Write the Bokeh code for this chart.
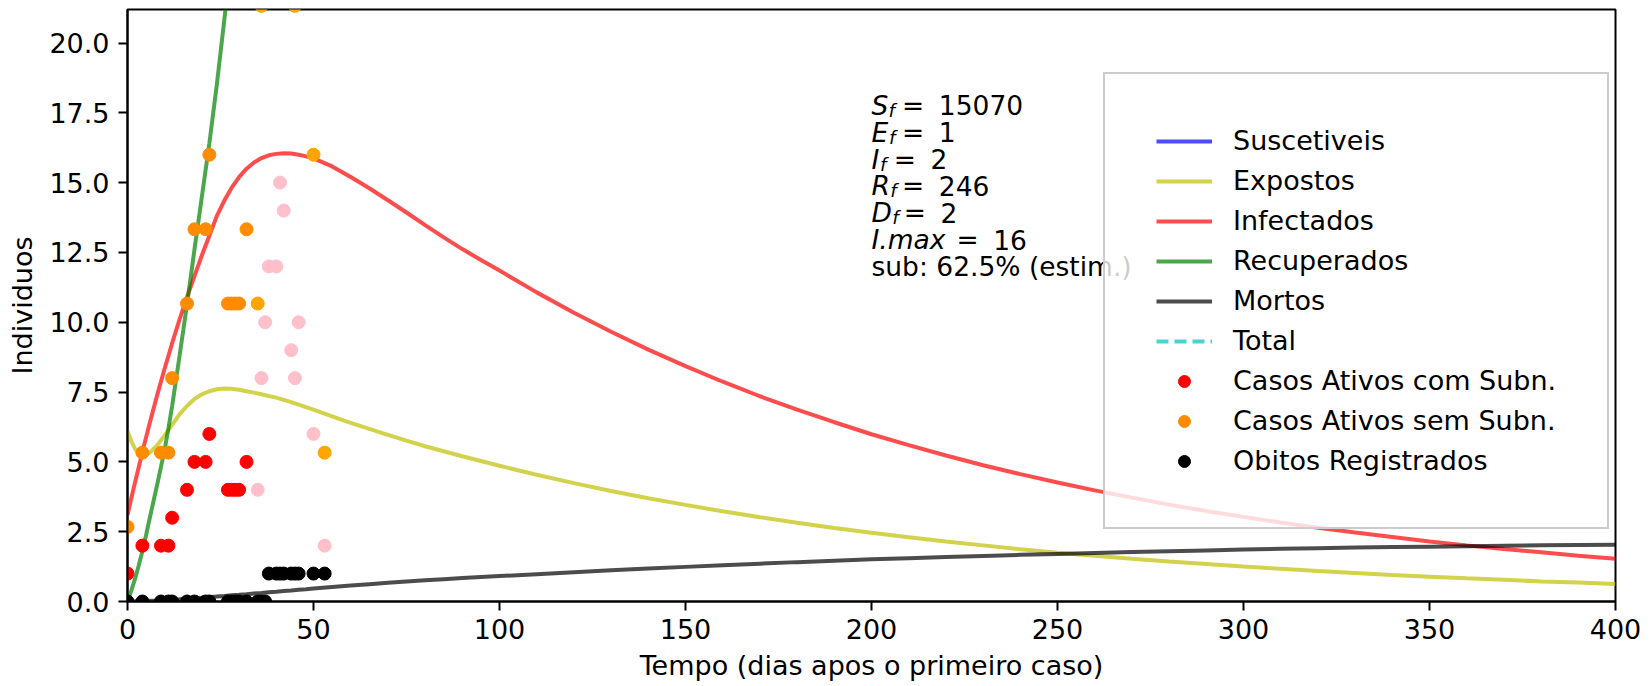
from bokeh.plotting import figure
from bokeh.models import Range1d, Legend, LegendItem, FixedTicker
from bokeh.core.properties import value
from bokeh.embed import file_html
from bokeh.resources import INLINE

FONT = "DejaVu Sans"

# ---------------- data ----------------
t_model = [0, 1, 2, 3, 4, 5, 6, 8, 10, 12, 14, 16, 18, 20, 22, 24, 26, 28, 30, 32, 34, 36,
           38, 40, 42, 44, 46, 48, 50, 55, 60, 65, 70, 75, 80, 85, 90, 95, 100, 110, 120,
           130, 140, 150, 160, 170, 180, 190, 200, 210, 220, 230, 240, 250, 260, 270, 280,
           290, 300, 310, 320, 330, 340, 350, 360, 370, 380, 390, 400]
infectados = [3.1, 3.68, 4.25, 4.8, 5.35, 5.88, 6.4, 7.4, 8.35, 9.25, 10.1, 10.9, 11.65,
              12.4, 13.1, 13.8, 14.35, 14.82, 15.2, 15.5, 15.72, 15.88, 15.98, 16.03, 16.05,
              16.04, 16.0, 15.94, 15.87, 15.58, 15.2, 14.8, 14.37, 13.93, 13.48, 13.04,
              12.62, 12.23, 11.85, 11.07, 10.34, 9.66, 9.02, 8.43, 7.87, 7.35, 6.87, 6.42,
              5.99, 5.6, 5.23, 4.88, 4.56, 4.26, 3.98, 3.72, 3.47, 3.24, 3.03, 2.83, 2.64,
              2.47, 2.31, 2.15, 2.01, 1.88, 1.76, 1.64, 1.53]
expostos = [6.1, 5.75, 5.47, 5.3, 5.24, 5.25, 5.33, 5.6, 5.95, 6.33, 6.7, 7.0, 7.25, 7.42,
            7.53, 7.6, 7.63, 7.62, 7.58, 7.53, 7.48, 7.42, 7.36, 7.3, 7.22, 7.14, 7.05, 6.96,
            6.87, 6.63, 6.4, 6.18, 5.97, 5.76, 5.56, 5.38, 5.2, 5.03, 4.86, 4.54, 4.24,
            3.96, 3.70, 3.46, 3.23, 3.02, 2.82, 2.63, 2.46, 2.30, 2.15, 2.01, 1.87, 1.75,
            1.64, 1.53, 1.43, 1.34, 1.25, 1.17, 1.09, 1.02, 0.95, 0.89, 0.83, 0.78, 0.72,
            0.68, 0.63]
mortos = [0.0, 0.004, 0.008, 0.013, 0.018, 0.023, 0.028, 0.038, 0.05, 0.065, 0.08, 0.1,
          0.115, 0.135, 0.155, 0.175, 0.195, 0.22, 0.24, 0.262, 0.285, 0.307, 0.33, 0.352,
          0.375, 0.397, 0.42, 0.44, 0.462, 0.517, 0.57, 0.62, 0.67, 0.715, 0.76, 0.8, 0.84,
          0.875, 0.91, 0.98, 1.05, 1.115, 1.18, 1.24, 1.3, 1.355, 1.41, 1.46, 1.51, 1.55,
          1.59, 1.63, 1.67, 1.705, 1.74, 1.77, 1.8, 1.83, 1.86, 1.885, 1.91, 1.93, 1.95,
          1.965, 1.98, 1.995, 2.01, 2.02, 2.03]

t_rec = [0, 1, 2, 3, 4, 5, 6, 7, 8, 9, 10, 11, 12, 13, 14, 15, 16, 17, 18, 20, 22, 24, 26,
         28, 30, 35, 40, 50, 75, 100, 150, 200, 250, 300, 350, 400]
recuperados = [0.0, 0.38, 0.8, 1.28, 1.8, 2.38, 3.0, 3.6, 4.2, 4.82, 5.45, 6.2, 7.0, 7.9,
               8.8, 9.72, 10.65, 11.62, 12.6, 14.5, 16.4, 18.5, 20.8, 23.2, 25.6, 31.5,
               37.5, 48.5, 75.0, 100.0, 140.0, 172.0, 196.0, 214.0, 231.0, 246.0]

t_sus = [0, 50, 100, 200, 300, 400]
suscetiveis = [15312, 15255, 15180, 15105, 15082, 15070]
total = [15321, 15321, 15321, 15321, 15321, 15321]

dias_fit = [0, 4, 9, 11, 12, 16, 18, 21, 22, 27, 28, 29, 30, 32]
ativos_com_sub = [1, 2, 2, 2, 3, 4, 5, 5, 6, 4, 4, 4, 4, 5]
ativos_sem_sub = [2.67, 5.33, 5.33, 5.33, 8.0, 10.67, 13.33, 13.33, 16.0, 10.67, 10.67,
                  10.67, 10.67, 13.33]

dias_novos = [35, 36, 37, 38, 40, 41, 42, 44, 45, 46, 50, 53]
ativos_novos = [4, 8, 10, 12, 12, 15, 14, 9, 8, 10, 6, 2]
ativos_novos_sem_sub = [10.67, 21.33, 26.67, 32.0, 32.0, 40.0, 37.33, 24.0, 21.33, 26.67,
                        16.0, 5.33]

dias_obitos = [0, 4, 9, 11, 12, 16, 18, 21, 22, 27, 28, 29, 30, 32, 35, 36, 37,
               38, 40, 41, 42, 44, 45, 46, 50, 53]
obitos = [0, 0, 0, 0, 0, 0, 0, 0, 0, 0, 0, 0, 0, 0, 0, 0, 0,
          1, 1, 1, 1, 1, 1, 1, 1, 1]

x_ticks = [0, 50, 100, 150, 200, 250, 300, 350, 400]
y_ticks = [0, 2.5, 5.0, 7.5, 10.0, 12.5, 15.0, 17.5, 20.0]
y_tick_labels = ["0.0", "2.5", "5.0", "7.5", "10.0", "12.5", "15.0", "17.5", "20.0"]

ann_vars = ["S", "E", "I", "R", "D"]
ann_vals = ["15070", "1", "2", "246", "2"]
imax_val = "16"
sub_text = "sub: 62.5% (estim.)"

# ---------------- figure ----------------
p = figure(width=1650, height=684, output_backend="svg", toolbar_location=None,
           x_range=Range1d(0, 400), y_range=Range1d(0, 21.2),
           min_border_left=127, min_border_right=35, min_border_top=9, min_border_bottom=83,
           background_fill_color="white", border_fill_color="white")
p.xgrid.visible = False
p.ygrid.visible = False
p.outline_line_color = "black"
p.outline_line_width = 2
p.outline_line_alpha = 1

p.xaxis.ticker = FixedTicker(ticks=x_ticks)
p.yaxis.ticker = FixedTicker(ticks=y_ticks)
p.yaxis.major_label_overrides = {t: l for t, l in zip(y_ticks, y_tick_labels)}
for ax in (p.xaxis[0], p.yaxis[0]):
    ax.major_tick_out = 9
    ax.major_tick_in = 0
    ax.minor_tick_out = 0
    ax.minor_tick_in = 0
    ax.major_tick_line_width = 2
    ax.axis_line_width = 2
    ax.major_label_text_font = FONT
    ax.major_label_text_font_size = "27px"
    ax.major_label_text_color = "black"
    ax.axis_label_text_font = FONT
    ax.axis_label_text_font_size = "27px"
    ax.axis_label_text_font_style = "normal"
    ax.axis_label_text_color = "black"
p.xaxis.axis_label = "Tempo (dias apos o primeiro caso)"
p.yaxis.axis_label = "Individuos"
p.xaxis.major_label_standoff = 8
p.xaxis.axis_label_standoff = 8
p.yaxis.major_label_standoff = 9
p.yaxis.axis_label_standoff = 8

LW = 4
r_s = p.line(t_sus, suscetiveis, line_color="blue", line_alpha=0.7, line_width=LW)
r_e = p.line(t_model, expostos, line_color="#bfbf00", line_alpha=0.7, line_width=LW)
r_i = p.line(t_model, infectados, line_color="red", line_alpha=0.7, line_width=LW)
r_r = p.line(t_rec, recuperados, line_color="green", line_alpha=0.7, line_width=LW)
r_d = p.line(t_model, mortos, line_color="black", line_alpha=0.7, line_width=LW)
r_t = p.line(t_sus, total, line_color="#00bfbf", line_alpha=0.7, line_width=LW,
             line_dash="12 6")

MS = 13
p.scatter(dias_novos, ativos_novos, size=MS, fill_color="pink", line_color="pink")
p.scatter(dias_novos, ativos_novos_sem_sub, size=MS, fill_color="orange", line_color="orange")
r_pc = p.scatter(dias_fit, ativos_com_sub, size=MS, fill_color="red", line_color="red")
r_ps = p.scatter(dias_fit, ativos_sem_sub, size=MS, fill_color="darkorange",
                 line_color="darkorange")
r_ob = p.scatter(dias_obitos, obitos, size=MS, fill_color="black", line_color="black")

# ---------------- annotation text ----------------
TX = 200
Y0 = 17.77
DY = 0.963
SUB_DY = 0.18
FS = "26.5px"
FS_SUB = "18.5px"
sub_dx = [17.0, 17.5, 8.5, 18.8, 20.8]
eq_dx = [30.6, 30.6, 22.3, 30.6, 32.3]
val_gap = 36.7
common = dict(text_font=value(FONT), text_baseline="alphabetic", text_align="left",
              text_color="black")
for i, (v, val) in enumerate(zip(ann_vars, ann_vals)):
    y = Y0 - i * DY
    p.text(x=[TX], y=[y], text=[v], text_font_size=FS, text_font_style="italic", **common)
    p.text(x=[TX], y=[y - SUB_DY], text=["f"], x_offset=sub_dx[i], text_font_size=FS_SUB,
           text_font_style="italic", **common)
    p.text(x=[TX], y=[y], text=["="], x_offset=eq_dx[i], text_font_size=FS, **common)
    p.text(x=[TX], y=[y], text=[val], x_offset=eq_dx[i] + val_gap, text_font_size=FS,
           **common)
y5 = Y0 - 5 * DY
p.text(x=[TX], y=[y5], text=["I.max"], text_font_size=FS, text_font_style="italic", **common)
p.text(x=[TX], y=[y5], text=["="], x_offset=85, text_font_size=FS, **common)
p.text(x=[TX], y=[y5], text=[imax_val], x_offset=121.7, text_font_size=FS, **common)
p.text(x=[TX], y=[Y0 - 6 * DY], text=[sub_text], text_font_size=FS, **common)

# ---------------- legend ----------------
legend = Legend(items=[
    LegendItem(label="Suscetiveis", renderers=[r_s]),
    LegendItem(label="Expostos", renderers=[r_e]),
    LegendItem(label="Infectados", renderers=[r_i]),
    LegendItem(label="Recuperados", renderers=[r_r]),
    LegendItem(label="Mortos", renderers=[r_d]),
    LegendItem(label="Total", renderers=[r_t]),
    LegendItem(label="Casos Ativos com Subn.", renderers=[r_pc]),
    LegendItem(label="Casos Ativos sem Subn.", renderers=[r_ps]),
    LegendItem(label="Obitos Registrados", renderers=[r_ob]),
], location=(976, 72))
legend.label_text_font = FONT
legend.label_text_font_size = "27px"
legend.label_text_color = "black"
legend.glyph_width = 56
legend.glyph_height = 30
legend.label_height = 30
legend.label_standoff = 21
legend.spacing = 9
legend.padding = 51
legend.margin = 0
legend.border_line_color = "#cccccc"
legend.border_line_width = 2
legend.border_line_alpha = 1
legend.background_fill_color = "white"
legend.background_fill_alpha = 0.8
p.add_layout(legend)

open("out.html", "w").write(file_html(p, INLINE))
